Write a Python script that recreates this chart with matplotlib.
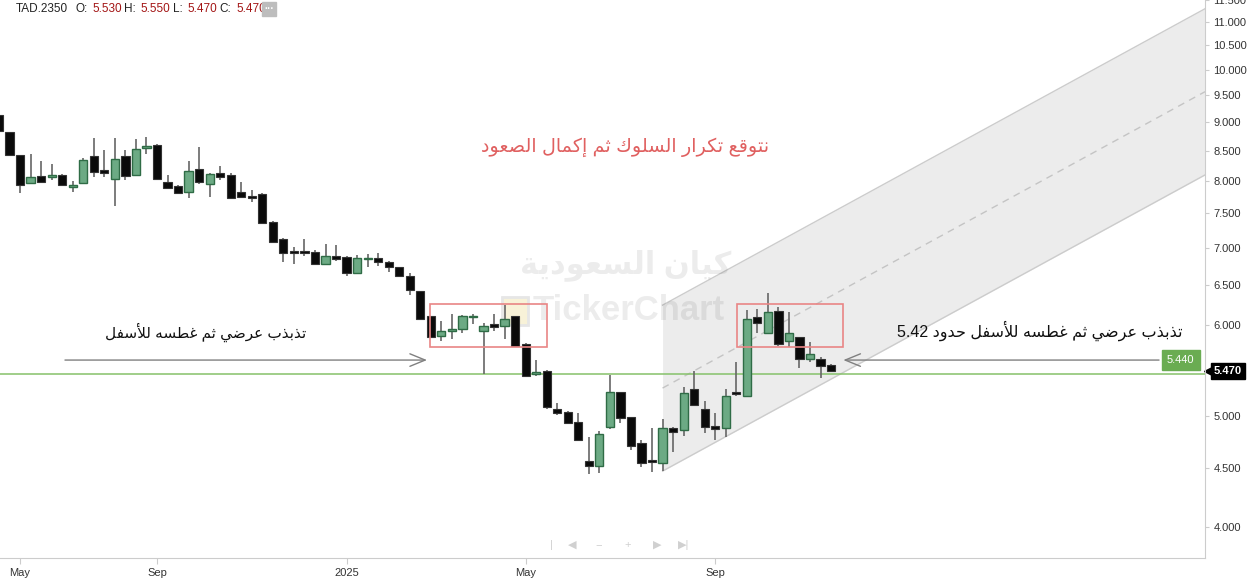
import matplotlib
matplotlib.use('Agg')
import matplotlib.pyplot as plt
from matplotlib import transforms
from matplotlib.patches import Rectangle
from matplotlib.ticker import NullLocator

plt.rcParams['font.family'] = ['Liberation Sans', 'DejaVu Sans']

# weekly candles TAD.2350
opens = [9.13, 8.83, 8.43, 7.97, 8.09, 8.07, 8.10, 7.91, 7.97, 8.41,
         8.18, 8.04, 8.41, 8.10, 8.55, 8.60, 7.99, 7.92, 7.83, 8.20,
         7.96, 8.13, 8.10, 7.83, 7.76, 7.80, 7.37, 7.12, 6.96, 6.96,
         6.94, 6.78, 6.89, 6.87, 6.66, 6.85, 6.86, 6.81, 6.73, 6.61,
         6.42, 6.10, 5.87, 5.92, 5.95, 6.09, 5.92, 6.01, 5.98, 6.10,
         5.77, 5.44, 5.47, 5.07, 5.04, 4.94, 4.57, 4.52, 4.89, 5.24,
         4.99, 4.73, 4.58, 4.55, 4.88, 4.86, 5.27, 5.07, 4.90, 4.88,
         5.24, 5.20, 6.09, 5.90, 6.17, 5.81, 5.85, 5.60, 5.60, 5.53]
highs = [9.15, 8.83, 8.43, 8.45, 8.33, 8.28, 8.12, 8.00, 8.38, 8.72,
         8.51, 8.72, 8.51, 8.70, 8.74, 8.62, 8.10, 7.94, 8.33, 8.56,
         8.13, 8.25, 8.13, 7.99, 7.86, 7.81, 7.38, 7.14, 7.01, 7.12,
         6.97, 7.05, 7.04, 6.88, 6.90, 6.91, 6.93, 6.82, 6.74, 6.65,
         6.42, 6.11, 6.05, 6.13, 6.12, 6.13, 6.02, 6.13, 6.24, 6.11,
         5.78, 5.59, 5.48, 5.13, 5.05, 5.03, 4.79, 4.85, 5.42, 5.24,
         4.99, 4.76, 4.88, 4.97, 4.89, 5.30, 5.47, 5.15, 5.03, 5.27,
         5.57, 6.18, 6.19, 6.39, 6.22, 6.15, 5.86, 5.80, 5.63, 5.55]
lows = [8.85, 8.43, 7.81, 7.96, 7.99, 8.02, 7.93, 7.83, 7.96, 8.07,
        8.07, 7.61, 8.02, 8.09, 8.45, 8.03, 7.88, 7.80, 7.73, 7.96,
        7.75, 8.02, 7.73, 7.74, 7.67, 7.35, 7.08, 6.81, 6.78, 6.89,
        6.78, 6.77, 6.82, 6.62, 6.65, 6.74, 6.75, 6.67, 6.60, 6.37,
        6.06, 5.84, 5.81, 5.83, 5.90, 6.01, 5.44, 5.92, 5.83, 5.74,
        5.40, 5.41, 5.07, 5.01, 4.92, 4.75, 4.45, 4.46, 4.87, 4.93,
        4.67, 4.51, 4.47, 4.48, 4.65, 4.80, 5.10, 4.83, 4.76, 4.79,
        5.20, 5.19, 5.90, 5.89, 5.75, 5.74, 5.50, 5.57, 5.39, 5.47]
closes = [8.85, 8.43, 7.94, 8.07, 7.99, 8.10, 7.94, 7.94, 8.35, 8.15,
          8.13, 8.36, 8.09, 8.53, 8.58, 8.04, 7.89, 7.81, 8.16, 7.99,
          8.12, 8.07, 7.73, 7.75, 7.73, 7.36, 7.08, 6.93, 6.93, 6.93,
          6.78, 6.89, 6.85, 6.66, 6.86, 6.86, 6.81, 6.73, 6.61, 6.43,
          6.07, 5.85, 5.92, 5.95, 6.11, 6.10, 5.98, 5.97, 6.07, 5.75,
          5.41, 5.46, 5.09, 5.03, 4.93, 4.76, 4.52, 4.82, 5.24, 4.98,
          4.71, 4.55, 4.56, 4.88, 4.84, 5.23, 5.11, 4.89, 4.87, 5.20,
          5.22, 6.07, 6.02, 6.15, 5.77, 5.90, 5.60, 5.66, 5.52, 5.47]

month_pos = [2, 15, 33, 50, 68]
month_labels = ['May', 'Sep', '2025', 'May', 'Sep']
price_ticks = [4.0, 4.5, 5.0, 6.0, 6.5, 7.0, 7.5, 8.0, 8.5, 9.0, 9.5, 10.0, 10.5, 11.0, 11.5]

support_level = 5.44
last_price = 5.47

# drawn objects
chan_x = [63, 114.5]
chan_low = [4.475, 8.10]
chan_mid = [5.285, 9.57]
chan_high = [6.24, 11.30]
box1_x = [40.9, 52.0]
box2_x = [70.1, 80.1]
box_y = [5.74, 6.25]
arrow_y = 5.59

# Arabic shaping: isolated form code, joins to next letter
AR_FORMS = {
    'ا': (0xFE8D, False), 'أ': (0xFE83, False), 'إ': (0xFE87, False),
    'ب': (0xFE8F, True), 'ة': (0xFE93, False), 'ت': (0xFE95, True),
    'ث': (0xFE99, True), 'ح': (0xFEA1, True), 'د': (0xFEA9, False),
    'ذ': (0xFEAB, False), 'ر': (0xFEAD, False), 'س': (0xFEB1, True),
    'ص': (0xFEB9, True), 'ض': (0xFEBD, True), 'ط': (0xFEC1, True),
    'ع': (0xFEC9, True), 'غ': (0xFECD, True), 'ف': (0xFED1, True),
    'ق': (0xFED5, True), 'ك': (0xFED9, True), 'ل': (0xFEDD, True),
    'م': (0xFEE1, True), 'ن': (0xFEE5, True), 'ه': (0xFEE9, True),
    'و': (0xFEED, False), 'ي': (0xFEF1, True),
    'لا': (0xFEFB, False), 'لأ': (0xFEF7, False), 'لإ': (0xFEF9, False),
}


def shape_word(w):
    letters = []
    i = 0
    while i < len(w):
        if w[i] == 'ل' and i + 1 < len(w) and w[i + 1] in 'اأإ':
            letters.append(w[i:i + 2])
            i += 2
        else:
            letters.append(w[i])
            i += 1
    out = []
    for k, ch in enumerate(letters):
        if ch not in AR_FORMS:
            out.append(ch)
            continue
        base, dual = AR_FORMS[ch]
        pj = k > 0 and letters[k - 1] in AR_FORMS and AR_FORMS[letters[k - 1]][1]
        nj = dual and k + 1 < len(letters) and letters[k + 1] in AR_FORMS
        if pj and nj:
            code = base + 3
        elif pj:
            code = base + 1
        elif nj:
            code = base + 2
        else:
            code = base
        out.append(chr(code))
    return ''.join(reversed(out))


def ar(text):
    words = []
    for w in text.split(' '):
        if any(c in AR_FORMS for c in w):
            words.append(shape_word(w))
        else:
            words.append(w)
    return ' '.join(reversed(words))


fig = plt.figure(figsize=(12.49, 5.80), dpi=100)
ax = fig.add_axes([0, 22 / 580, 1205 / 1249, 558 / 580])
ax.set_yscale('log')
ax.set_ylim(3.76, 11.5)
ax.set_xlim(0.095, 114.5)

# channel
ax.fill_between(chan_x, chan_low, chan_high, color='#ececec', lw=0, zorder=1)
ax.plot(chan_x, chan_low, color='#cccccc', lw=1, zorder=1)
ax.plot(chan_x, chan_high, color='#cccccc', lw=1, zorder=1)
ax.plot(chan_x, chan_mid, color='#c4c4c4', lw=1, ls=(0, (5, 4)), zorder=1)

# watermark (over the channel, under the candles)
ax.text(0.519, 0.525, ar('كيان السعودية'), transform=ax.transAxes, ha='center', va='center',
        fontsize=22, fontweight='bold', color='black', alpha=0.075, zorder=1.5)
ax.text(0.442, 0.443, 'TickerChart', transform=ax.transAxes, ha='left', va='center',
        fontsize=25, fontweight='bold', color='black', alpha=0.075, zorder=1.5)
ax.add_patch(Rectangle((0.417, 0.418), 0.021, 0.05, transform=ax.transAxes, fc='#f8f2d8',
                       ec='#e6e6e6', lw=2, zorder=1.5))

ax.axhline(support_level, color='#86c16a', lw=1.1, zorder=2)

# candles
x = list(range(len(opens)))
up_x = [i for i in x if closes[i] >= opens[i]]
dn_x = [i for i in x if closes[i] < opens[i]]
ax.vlines(x, lows, highs, color='#666666', lw=1.2, zorder=3)
ax.bar(up_x, [max(closes[i] - opens[i], 0.012) for i in up_x], bottom=[opens[i] for i in up_x],
       width=0.78, color='#6caa84', edgecolor='#2f6c46', lw=1, zorder=4)
ax.bar(dn_x, [max(opens[i] - closes[i], 0.012) for i in dn_x], bottom=[closes[i] for i in dn_x],
       width=0.78, color='#0a0a0a', edgecolor='#333333', lw=0.8, zorder=4)

# boxes and arrows
for bx in (box1_x, box2_x):
    ax.add_patch(Rectangle((bx[0], box_y[0]), bx[1] - bx[0], box_y[1] - box_y[0], fill=False,
                           ec='#e98585', lw=1.2, zorder=5))
ax.annotate('', xy=(40.9, arrow_y), xytext=(6.0, arrow_y),
            arrowprops=dict(arrowstyle='->,head_length=1.1,head_width=0.45', color='#808080', lw=1))
ax.annotate('', xy=(79.9, arrow_y), xytext=(110.4, arrow_y),
            arrowprops=dict(arrowstyle='->,head_length=1.1,head_width=0.45', color='#808080', lw=1))

# annotations
ax.text(59.4, 8.56, ar('نتوقع تكرار السلوك ثم إكمال الصعود'), ha='center', va='center',
        fontsize=13.8, color='#e06060', zorder=6)
ax.text(19.6, 5.91, ar('تذبذب عرضي ثم غطسه للأسفل'), ha='center', va='center',
        fontsize=11, color='#111111', zorder=6)
ax.text(98.8, 5.93, ar('تذبذب عرضي ثم غطسه للأسفل حدود 5.42'), ha='center', va='center',
        fontsize=11.5, color='#111111', zorder=6)
ax.text(112.2, 5.595, '5.440', ha='center', va='center', fontsize=8, color='white', zorder=6,
        bbox=dict(boxstyle='square,pad=0.45', fc='#6aac52', ec='#6aac52'))

# last price tag
bt = transforms.blended_transform_factory(ax.transAxes, ax.transData)
ax.text(1.0075, last_price, '%.3f' % last_price, transform=bt, ha='left', va='center', fontsize=8,
        fontweight='bold', color='white', clip_on=False,
        bbox=dict(boxstyle='square,pad=0.3', fc='black', ec='black'))
ax.plot([1.0035], [last_price], marker='<', ms=7, color='black', transform=bt, clip_on=False)

# axes styling
for s in ('left', 'top'):
    ax.spines[s].set_visible(False)
for s in ('right', 'bottom'):
    ax.spines[s].set_color('#cccccc')
ax.yaxis.tick_right()
ax.yaxis.set_minor_locator(NullLocator())
ax.set_yticks(price_ticks)
ax.set_yticklabels(['%.3f' % v for v in price_ticks])
ax.set_xticks(month_pos)
ax.set_xticklabels(month_labels)
ax.tick_params(axis='y', length=3, color='#cccccc', labelsize=8, labelcolor='#333333', pad=3)
ax.tick_params(axis='x', length=4, color='#cccccc', labelsize=8, labelcolor='#333333', pad=3)

# header
hdr = [(16, 'TAD.2350', '#222222'), (75, 'O:', '#222222'), (92, '5.530', '#a31515'),
       (124, 'H:', '#222222'), (140, '5.550', '#a31515'), (173, 'L:', '#222222'),
       (187, '5.470', '#a31515'), (219, 'C:', '#222222'), (236, '5.470', '#a31515')]
for px, s, c in hdr:
    fig.text(px / 1249, 1 - 9 / 580, s, ha='left', va='center', fontsize=8.5, color=c)
fig.text(269 / 1249, 1 - 9 / 580, '···', ha='center', va='center', fontsize=7, color='white',
         fontweight='bold', bbox=dict(boxstyle='square,pad=0.25', fc='#bdbdbd', ec='#bdbdbd'))

# navigation strip
for px, s in [(551, '|'), (572, '◀'), (599, '−'), (628, '+'), (657, '▶'), (684, '▶|')]:
    fig.text(px / 1249, 1 - 545 / 580, s, ha='center', va='center', fontsize=8, color='#d0d0d0')

fig.savefig('out.png', dpi=100)
